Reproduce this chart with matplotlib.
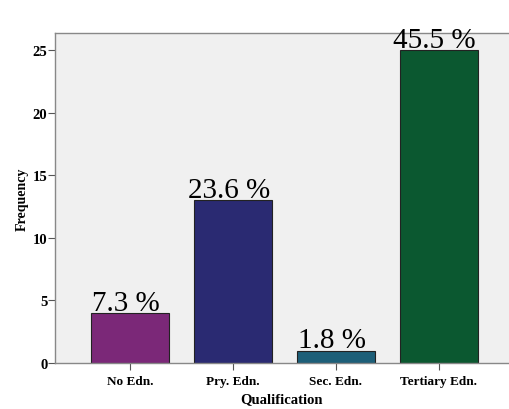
import matplotlib
matplotlib.use("Agg")
import matplotlib.pyplot as plt

categories = ["No Edn.", "Pry. Edn.", "Sec. Edn.", "Tertiary Edn."]
frequency = [4, 13, 1, 25]
percent_labels = ["7.3 %", "23.6 %", "1.8 %", "45.5 %"]
bar_colors = ["#7b2878", "#2a2a72", "#1d5f78", "#0b5830"]

plt.rcParams["font.family"] = ["Liberation Serif", "DejaVu Serif"]

fig = plt.figure(figsize=(5.09, 4.10), dpi=100)
ax = fig.add_axes([0.108, 0.112, 0.892, 0.805])
ax.set_facecolor("#f0f0f0")

x = range(len(categories))
ax.bar(x, frequency, width=0.75, color=bar_colors, edgecolor="#222222", linewidth=0.8, zorder=2)

# percentage labels sit just above each bar
for xi, val, lab in zip(x, frequency, percent_labels):
    ax.annotate(lab, (xi, val), xytext=(-3, 2.5), textcoords="offset points",
                ha="center", va="baseline", fontsize=21, color="black",
                annotation_clip=False, zorder=5)

ax.set_xlim(-0.728, 3.68)
ax.set_ylim(0, 26.36)
ax.set_yticks([0, 5, 10, 15, 20, 25])
ax.set_xticks(list(x))
ax.set_xticklabels(categories, fontsize=9.5, fontweight="bold")
for t in ax.get_yticklabels():
    t.set_fontweight("bold")
ax.tick_params(axis="y", labelsize=10.5, length=5, color="#555555", pad=0.5)
ax.tick_params(axis="x", length=5, color="#555555", pad=3.5)

for side in ["left", "bottom", "top"]:
    ax.spines[side].set_color("#888888")
    ax.spines[side].set_linewidth(1.0)
ax.spines["right"].set_visible(False)

ax.set_xlabel("Qualification", fontsize=10.5, fontweight="bold", labelpad=4)
ax.set_ylabel("Frequency", fontsize=10, fontweight="bold", labelpad=3)

fig.savefig("out.png", dpi=100)
